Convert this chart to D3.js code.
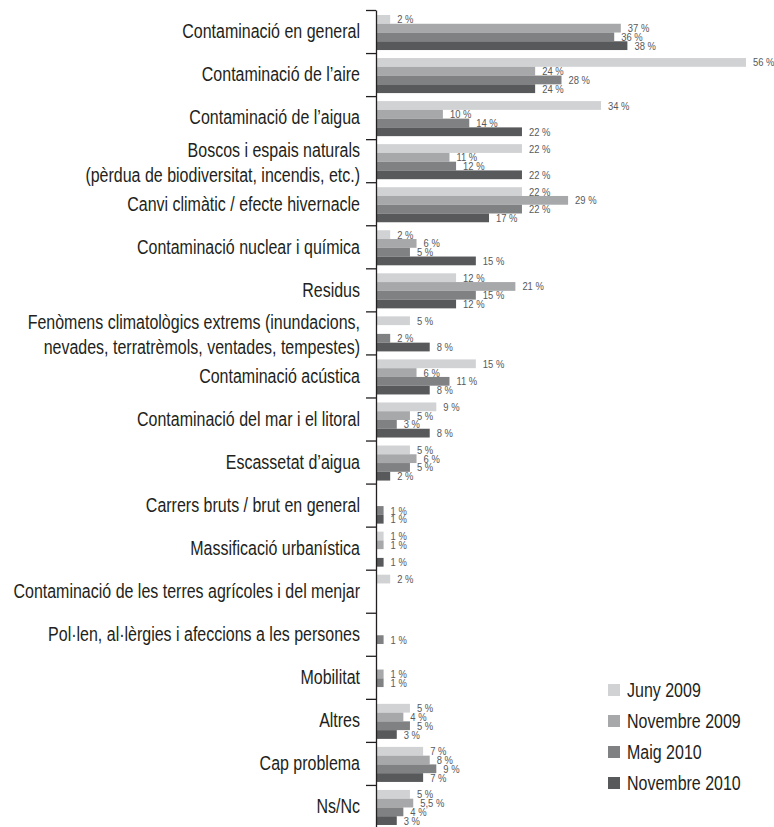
<!DOCTYPE html>
<html>
<head>
<meta charset="utf-8">
<script src="https://cdn.jsdelivr.net/npm/d3@7"></script>
<style>
  html, body { margin: 0; padding: 0; background: #fff; }
  #chart { width: 774px; height: 827px; }
  text { font-family: 'Liberation Sans', Arial, sans-serif; }
</style>
</head>
<body>
<div id="chart"></div>
<script>
// categories (a "\n" breaks the label in two lines)
var categories = [
  'Contaminació en general',
  'Contaminació de l\u2019aire',
  'Contaminació de l\u2019aigua',
  'Boscos i espais naturals\n(pèrdua de biodiversitat, incendis, etc.)',
  'Canvi climàtic / efecte hivernacle',
  'Contaminació nuclear i química',
  'Residus',
  'Fenòmens climatològics extrems (inundacions,\nnevades, terratrèmols, ventades, tempestes)',
  'Contaminació acústica',
  'Contaminació del mar i el litoral',
  'Escassetat d\u2019aigua',
  'Carrers bruts / brut en general',
  'Massificació urbanística',
  'Contaminació de les terres agrícoles i del menjar',
  'Pol·len, al·lèrgies i afeccions a les persones',
  'Mobilitat',
  'Altres',
  'Cap problema',
  'Ns/Nc'
];
var seriesNames = ['Juny 2009', 'Novembre 2009', 'Maig 2010', 'Novembre 2010'];
// values in %, null = no bar
var juny2009     = [2, 56, 34, 22, 22, 2, 12, 5, 15, 9, 5, null, 1, 2, null, null, 5, 7, 5];
var novembre2009 = [37, 24, 10, 11, 29, 6, 21, null, 6, 5, 6, null, 1, null, null, 1, 4, 8, 5.5];
var maig2010     = [36, 28, 14, 12, 22, 5, 15, 2, 11, 3, 5, 1, null, null, 1, 1, 5, 9, 4];
var novembre2010 = [38, 24, 22, 22, 17, 15, 12, 8, 8, 8, 2, 1, 1, null, null, null, 3, 7, 3];
var seriesValues = [juny2009, novembre2009, maig2010, novembre2010];
var colors = ['#d1d2d4', '#a7a8aa', '#808183', '#58595b'];

// no condensed font installed: squeeze Liberation Sans horizontally
var NARROW = 0.82;

var chart = {
  init: function(selector) {
    this.svg = d3.select(selector).append('svg')
      .attr('width', 774)
      .attr('height', 827);
    this.createScales();
    this.render();
  },
  // scales
  createScales: function() {
    var me = this;
    me.y0 = d3.scaleBand()
      .domain(d3.range(categories.length))
      .range([10, 828]);
    me.yEdge = d3.scaleLinear()
      .domain([0, categories.length])
      .range([10, 828]);
    me.y1 = d3.scaleBand()
      .domain(seriesNames)
      .range([me.y0.bandwidth() * 0.116, me.y0.bandwidth() * 0.93]);
    me.x = d3.scaleLinear()
      .domain([0, 56])
      .range([377, 746]);
  },
  render: function() {
    var me = this;
    var svg = me.svg;

    // bars
    var rows = [];
    categories.forEach(function(c, i) {
      seriesNames.forEach(function(s, j) {
        var v = seriesValues[j][i];
        if (v !== null) rows.push({ cat: i, series: s, idx: j, value: v });
      });
    });
    var g = svg.append('g');
    g.selectAll('rect')
      .data(rows)
      .enter()
      .append('rect')
      .attr('x', me.x(0))
      .attr('y', function(d) { return me.y0(d.cat) + me.y1(d.series); })
      .attr('width', function(d) { return me.x(d.value) - me.x(0); })
      .attr('height', me.y1.bandwidth())
      .style('fill', function(d) { return colors[d.idx]; });

    // value labels
    g.selectAll('text')
      .data(rows)
      .enter()
      .append('text')
      .attr('transform', function(d) {
        var tx = me.x(d.value) + 7;
        var ty = me.y0(d.cat) + me.y1(d.series) + me.y1.bandwidth() / 2;
        return 'translate(' + tx + ',' + ty + ') scale(' + NARROW + ',1)';
      })
      .attr('dy', '0.35em')
      .style('font-size', '11.5px')
      .style('fill', '#58595b')
      .text(function(d) { return String(d.value).replace('.', ',') + ' %'; });

    // axis with ticks on the group boundaries
    var axis = svg.append('g')
      .attr('transform', 'translate(376,0)')
      .call(d3.axisLeft(me.yEdge)
        .tickValues(d3.range(0, categories.length))
        .tickSize(10)
        .tickSizeOuter(0)
        .tickFormat(''));
    axis.selectAll('path, line')
      .style('stroke', '#231f20')
      .style('stroke-width', 1.3);

    // category labels
    var labels = svg.append('g').selectAll('text')
      .data(categories)
      .enter()
      .append('text')
      .attr('text-anchor', 'end')
      .attr('transform', function(d, i) {
        return 'translate(360,' + (me.y0(i) + me.y0.bandwidth() / 2) + ') scale(' + NARROW + ',1)';
      })
      .style('font-size', '19.5px')
      .style('fill', '#231f20');
    labels.each(function(d) {
      var lines = d.split('\n');
      var t = d3.select(this);
      lines.forEach(function(line, k) {
        t.append('tspan')
          .attr('x', 0)
          .attr('dy', k === 0 ? (0.35 - 0.55 * (lines.length - 1)) + 'em' : '1.28em')
          .text(line);
      });
    });

    // legend
    var legend = svg.append('g')
      .attr('transform', 'translate(608,690)')
      .selectAll('g')
      .data(seriesNames)
      .enter()
      .append('g')
      .attr('transform', function(d, i) { return 'translate(0,' + (i * 31) + ')'; });
    legend.append('rect')
      .attr('x', 0)
      .attr('y', -6)
      .attr('width', 12)
      .attr('height', 12)
      .style('fill', function(d, i) { return colors[i]; });
    legend.append('text')
      .attr('transform', 'translate(19,0) scale(' + NARROW + ',1)')
      .attr('dy', '0.35em')
      .style('font-size', '19.5px')
      .style('fill', '#231f20')
      .text(function(d) { return d; });
  }
};

chart.init('#chart');
</script>
</body>
</html>
